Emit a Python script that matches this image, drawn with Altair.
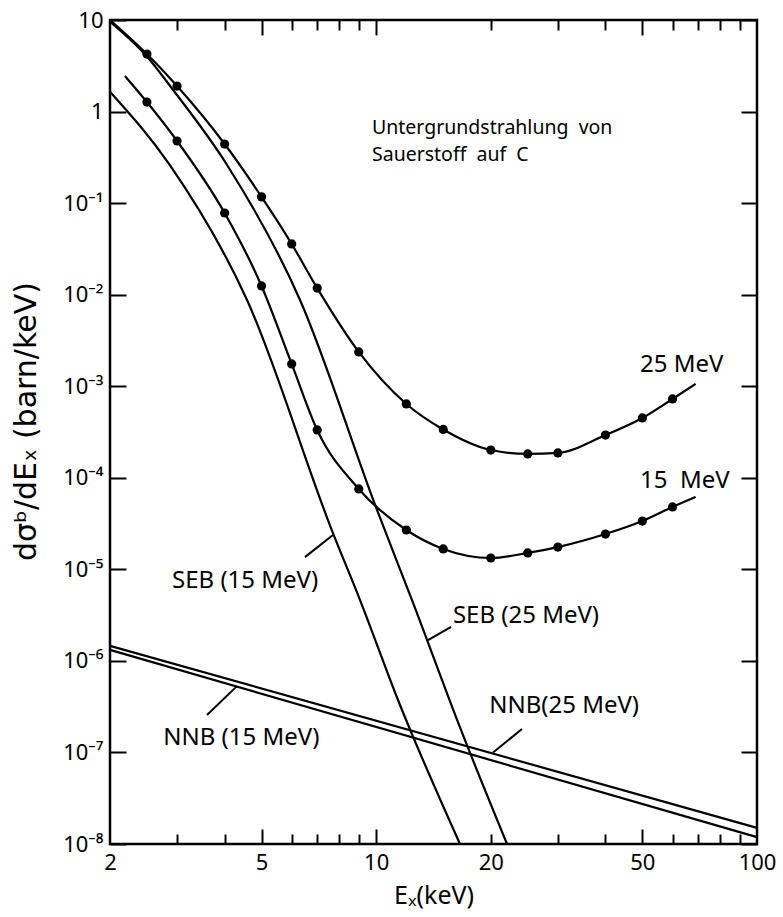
import altair as alt
import pandas as pd

FONT = "Noto Sans"
NB = "\u00a0"

# ---- data ----
# total background 25 MeV: measured points and curve
x_25 = [2.5, 3, 4, 5, 6, 7, 9, 12, 15, 20, 25, 30, 40, 50, 60]
y_25 = [4.25, 1.90, 0.442, 0.117, 0.0358, 0.0118, 2.37e-3, 6.4e-4, 3.37e-4,
        2.01e-4, 1.82e-4, 1.87e-4, 2.93e-4, 4.5e-4, 7.26e-4]
x_25_curve = [2.0] + x_25 + [69]
y_25_curve = [10.0] + y_25 + [1.06e-3]

# total background 15 MeV
x_15 = [2.5, 3, 4, 5, 6, 7, 9, 12, 15, 20, 25, 30, 40, 50, 60]
y_15 = [1.27, 0.477, 0.078, 0.01245, 1.75e-3, 3.33e-4, 7.55e-5, 2.69e-5, 1.67e-5,
        1.33e-5, 1.51e-5, 1.75e-5, 2.43e-5, 3.37e-5, 4.8e-5]
x_15_curve = [2.19] + x_15 + [69]
y_15_curve = [2.44] + y_15 + [6.17e-5]

# SEB curves
x_seb15 = [2.0, 2.87, 4.58, 7.70, 9.07, 11.41, 16.6]
y_seb15 = [1.65, 0.261, 8.75e-3, 2.49e-5, 4.62e-6, 3.74e-7, 1e-8]
x_seb25 = [2.0, 2.5, 2.93, 4.06, 6.31, 10.05, 12.42, 16.7, 22.06]
y_seb25 = [9.6, 4.0, 1.72, 0.261, 8.75e-3, 4.45e-5, 4.62e-6, 1.76e-7, 1e-8]

# NNB lines
x_nnb = [2, 100]
y_nnb25 = [1.46e-6, 1.5e-8]
y_nnb15 = [1.32e-6, 1.19e-8]

# labels
label_text = ["25" + NB + "MeV", "15" + NB * 2 + "MeV", "SEB" + NB + "(15" + NB + "MeV)",
              "SEB" + NB + "(25" + NB + "MeV)", "NNB" + NB + "(15" + NB + "MeV)", "NNB(25" + NB + "MeV)",
              "Untergrundstrahlung" + NB * 2 + "von", "Sauerstoff" + NB * 2 + "auf" + NB * 2 + "C"]
label_x = [49.3, 49.3, 2.91, 15.9, 2.76, 19.8, 9.75, 9.75]
label_y = [1.43e-3, 7.74e-5, 6.26e-6, 2.6e-6, 1.21e-7, 2.7e-7, 0.569, 0.29]
label_size = [24, 24, 24, 24, 24, 24, 19.5, 19.5]

# connector lines from labels to curves
conn_x = [6.50, 13.68, 3.595, 20.27]
conn_y = [1.36e-5, 1.69e-6, 2.57e-7, 1.0e-7]
conn_x2 = [7.70, 15.73, 4.31, 24.15]
conn_y2 = [2.37e-5, 2.35e-6, 5.3e-7, 1.8e-7]

x_label_values = [2, 5, 10, 20, 50, 100]
x_tick_values = [3, 4, 5, 6, 7, 8, 9, 10, 20, 30, 40, 50, 60, 70, 80, 90]
y_tick_values = [1e-8, 1e-7, 1e-6, 1e-5, 1e-4, 1e-3, 1e-2, 1e-1, 1, 10]
y_tick_labels = ["10⁻⁸", "10⁻⁷", "10⁻⁶", "10⁻⁵", "10⁻⁴", "10⁻³", "10⁻²", "10⁻¹", "1", "10"]

# ---- tables ----
rows = []
for name, xs_, ys_ in [("t25", x_25_curve, y_25_curve), ("t15", x_15_curve, y_15_curve),
                       ("seb15", x_seb15, y_seb15), ("seb25", x_seb25, y_seb25)]:
    rows += [{"s": name, "x": a, "y": b} for a, b in zip(xs_, ys_)]
curves = pd.DataFrame(rows)
nnb = pd.DataFrame([{"s": "n25", "x": a, "y": b} for a, b in zip(x_nnb, y_nnb25)] +
                   [{"s": "n15", "x": a, "y": b} for a, b in zip(x_nnb, y_nnb15)])
dots = pd.DataFrame({"x": x_25 + x_15, "y": y_25 + y_15})
labels = pd.DataFrame({"t": label_text, "x": label_x, "y": label_y, "fs": label_size})
conns = pd.DataFrame({"x": conn_x, "y": conn_y, "x2": conn_x2, "y2": conn_y2})

W, H = 647, 824
xs = alt.Scale(type="log", domain=[2, 100], nice=False)
ys = alt.Scale(type="log", domain=[1e-8, 10], nice=False)

y_expr = "[" + ",".join("'%s'" % s for s in y_tick_labels) + "][round(log(datum.value)/LN10)+8]"
long_test = "datum.value == 5 || datum.value == 10 || datum.value == 50"

main_x_axis = alt.Axis(values=x_label_values, ticks=False, domain=False, grid=False, format="d",
                       labelFontSize=22, labelFont=FONT, labelPadding=8, labelFlush=False,
                       labelOverlap=False, title="Eₓ(keV)", titleFont=FONT, titleFontSize=25,
                       titleFontWeight="normal", titlePadding=10)
main_y_axis = alt.Axis(values=y_tick_values, ticks=False, domain=False, grid=False,
                       labelExpr=y_expr, labelFontSize=22, labelFont=FONT, labelPadding=7,
                       labelOverlap=False, labelFlush=False,
                       title="dσᵇ/dEₓ (barn/keV)", titleFont="DejaVu Sans", titleFontSize=30,
                       titleFontWeight="normal", titleX=-84, titleY=401, titleAngle=270,
                       titleBaseline="middle", titleAlign="center")


def tick_x_axis(orient):
    return alt.Axis(orient=orient, offset=-H, values=x_tick_values, labels=False, domain=False,
                    grid=False, title=None, tickWidth=2, tickColor="black",
                    tickSize={"condition": {"test": long_test, "value": 15}, "value": 10})


def tick_y_axis(orient):
    return alt.Axis(orient=orient, offset=-W, values=y_tick_values, labels=False, domain=False,
                    grid=False, title=None, tickWidth=2, tickColor="black", tickSize=16)


line_layer = alt.Chart(curves).mark_line(interpolate="monotone", color="black", strokeWidth=2.2).encode(
    x=alt.X("x:Q", scale=xs, axis=main_x_axis),
    y=alt.Y("y:Q", scale=ys, axis=main_y_axis),
    detail="s:N",
)
nnb_layer = alt.Chart(nnb).mark_line(color="black", strokeWidth=2.2).encode(
    x=alt.X("x:Q", scale=xs, axis=None),
    y=alt.Y("y:Q", scale=ys, axis=None),
    detail="s:N",
)
dot_layer = alt.Chart(dots).mark_circle(size=85, color="black", opacity=1).encode(
    x=alt.X("x:Q", scale=xs, axis=None),
    y=alt.Y("y:Q", scale=ys, axis=None),
)
text_layer = alt.Chart(labels).mark_text(align="left", baseline="alphabetic", font=FONT,
                                         color="black").encode(
    x=alt.X("x:Q", scale=xs, axis=None),
    y=alt.Y("y:Q", scale=ys, axis=None),
    text="t:N",
    size=alt.Size("fs:Q", scale=None, legend=None),
)
conn_layer = alt.Chart(conns).mark_rule(color="black", strokeWidth=2).encode(
    x=alt.X("x:Q", scale=xs, axis=None),
    y=alt.Y("y:Q", scale=ys, axis=None),
    x2="x2:Q",
    y2="y2:Q",
)
ticks_a = alt.Chart(dots).mark_point(opacity=0).encode(
    x=alt.X("x:Q", scale=xs, axis=tick_x_axis("top")),
    y=alt.Y("y:Q", scale=ys, axis=tick_y_axis("right")),
)
ticks_b = alt.Chart(dots).mark_point(opacity=0).encode(
    x=alt.X("x:Q", scale=xs, axis=tick_x_axis("bottom")),
    y=alt.Y("y:Q", scale=ys, axis=tick_y_axis("left")),
)

chart = alt.layer(line_layer, nnb_layer, dot_layer, conn_layer, text_layer, ticks_a, ticks_b).resolve_axis(
    x="independent", y="independent"
).properties(
    width=W, height=H,
    autosize=alt.AutoSizeParams(type="none"),
    padding={"left": 110, "top": 20, "right": 26, "bottom": 73},
    background="white",
).configure_view(
    stroke="black", strokeWidth=2.5
).configure_axis(
    labelColor="black", titleColor="black"
)

chart.save("out.html", embed_options={"renderer": "svg", "actions": False})
